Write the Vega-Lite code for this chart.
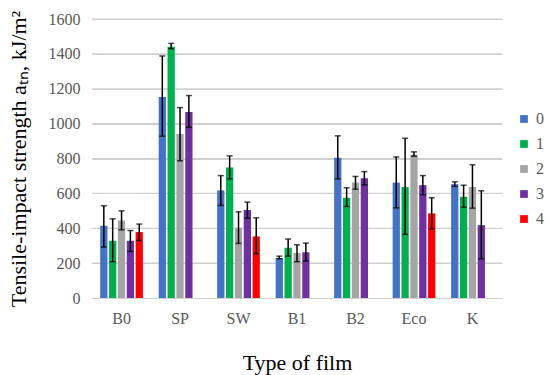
{
  "$schema": "https://vega.github.io/schema/vega-lite/v6.json",
  "width": 410,
  "height": 279,
  "autosize": {"type": "none"},
  "padding": {"left": 92, "top": 19, "right": 48, "bottom": 77},
  "config": {
    "font": "Liberation Serif",
    "view": {"stroke": null},
    "axis": {"labelFont": "Liberation Serif", "titleFont": "Liberation Serif"},
    "legend": {"labelFont": "Liberation Serif"}
  },
  "resolve": {"axis": {"y": "independent", "x": "independent"}},
  "datasets": {
    "bars": [
      {"film": "B0", "series": "0", "value": 414, "lo": 292, "hi": 529},
      {"film": "B0", "series": "1", "value": 328, "lo": 208, "hi": 454},
      {"film": "B0", "series": "2", "value": 445, "lo": 391, "hi": 500},
      {"film": "B0", "series": "3", "value": 328, "lo": 267, "hi": 387},
      {"film": "B0", "series": "4", "value": 378, "lo": 330, "hi": 424},
      {"film": "SP", "series": "0", "value": 1153, "lo": 928, "hi": 1388},
      {"film": "SP", "series": "1", "value": 1441, "lo": 1430, "hi": 1460},
      {"film": "SP", "series": "2", "value": 941, "lo": 787, "hi": 1092},
      {"film": "SP", "series": "3", "value": 1067, "lo": 979, "hi": 1161},
      {"film": "SW", "series": "0", "value": 617, "lo": 531, "hi": 702},
      {"film": "SW", "series": "1", "value": 748, "lo": 683, "hi": 815},
      {"film": "SW", "series": "2", "value": 403, "lo": 313, "hi": 494},
      {"film": "SW", "series": "3", "value": 504, "lo": 458, "hi": 550},
      {"film": "SW", "series": "4", "value": 353, "lo": 254, "hi": 460},
      {"film": "B1", "series": "0", "value": 229, "lo": 225, "hi": 240},
      {"film": "B1", "series": "1", "value": 288, "lo": 240, "hi": 338},
      {"film": "B1", "series": "2", "value": 258, "lo": 208, "hi": 305},
      {"film": "B1", "series": "3", "value": 262, "lo": 212, "hi": 315},
      {"film": "B2", "series": "0", "value": 804, "lo": 683, "hi": 930},
      {"film": "B2", "series": "1", "value": 575, "lo": 525, "hi": 632},
      {"film": "B2", "series": "2", "value": 662, "lo": 624, "hi": 697},
      {"film": "B2", "series": "3", "value": 687, "lo": 649, "hi": 725},
      {"film": "Eco", "series": "0", "value": 662, "lo": 517, "hi": 809},
      {"film": "Eco", "series": "1", "value": 636, "lo": 365, "hi": 916},
      {"film": "Eco", "series": "2", "value": 821, "lo": 813, "hi": 838},
      {"film": "Eco", "series": "3", "value": 647, "lo": 592, "hi": 702},
      {"film": "Eco", "series": "4", "value": 485, "lo": 395, "hi": 575},
      {"film": "K", "series": "0", "value": 653, "lo": 640, "hi": 666},
      {"film": "K", "series": "1", "value": 580, "lo": 521, "hi": 647},
      {"film": "K", "series": "2", "value": 636, "lo": 515, "hi": 764},
      {"film": "K", "series": "3", "value": 418, "lo": 225, "hi": 615}
    ],
    "grid": [
      {"g": 200}, {"g": 400}, {"g": 600}, {"g": 800},
      {"g": 1000}, {"g": 1200}, {"g": 1400}, {"g": 1600}
    ]
  },
  "layer": [
    {
      "data": {"name": "grid"},
      "mark": {"type": "rule", "color": "#D0D0D0", "strokeWidth": 1.2},
      "encoding": {
        "x": {"value": 0},
        "x2": {"value": "width"},
        "y": {"field": "g", "type": "quantitative", "axis": null}
      }
    },
    {
      "data": {"name": "bars"},
      "mark": {"type": "bar"},
      "encoding": {
        "x": {
          "field": "film", "type": "nominal",
          "sort": ["B0", "SP", "SW", "B1", "B2", "Eco", "K"],
          "scale": {"paddingInner": 0.27, "paddingOuter": 0.14},
          "axis": {
            "title": "Type of film", "titleFontSize": 22, "titleFontWeight": "normal", "titleColor": "#000000", "titlePadding": 26,
            "labelAngle": 0, "labelFontSize": 16, "labelColor": "#595959", "labelPadding": 12,
            "ticks": false, "domainColor": "#D0D0D0", "domainWidth": 1.2
          }
        },
        "xOffset": {
          "field": "series", "type": "nominal",
          "scale": {"domain": ["0", "1", "2", "3", "4"], "paddingInner": 0.18}
        },
        "y": {
          "field": "value", "type": "quantitative",
          "scale": {"domain": [0, 1600]},
          "axis": {
            "title": "Tensile-impact strength aₜₙ, kJ/m²", "titleFontSize": 22, "titleFontWeight": "normal", "titleColor": "#000000", "titlePadding": 18,
            "values": [0, 200, 400, 600, 800, 1000, 1200, 1400, 1600], "format": "d", "labelOverlap": false,
            "labelFontSize": 16, "labelColor": "#595959", "labelPadding": 12, "labelFont": "Liberation Serif",
            "ticks": true, "tickSize": 0, "domain": false, "grid": true, "gridColor": "#D0D0D0", "gridWidth": 1.2
          }
        },
        "color": {
          "field": "series", "type": "nominal",
          "scale": {"domain": ["0", "1", "2", "3", "4"], "range": ["#4472C4", "#00B050", "#A5A5A5", "#7030A0", "#FF0000"]},
          "legend": {
            "title": null, "orient": "none", "legendX": 424, "legendY": 92,
            "symbolType": "square", "symbolSize": 60, "symbolStrokeWidth": 0,
            "labelFontSize": 16, "labelColor": "#595959", "rowPadding": 9, "labelOffset": 4
          }
        }
      }
    },
    {
      "data": {"name": "bars"},
      "mark": {"type": "rule", "color": "#000000", "strokeWidth": 1.5},
      "encoding": {
        "x": {"field": "film", "type": "nominal", "sort": ["B0", "SP", "SW", "B1", "B2", "Eco", "K"], "axis": null},
        "xOffset": {"field": "series", "type": "nominal"},
        "y": {"field": "lo", "type": "quantitative", "axis": null},
        "y2": {"field": "hi"}
      }
    },
    {
      "data": {"name": "bars"},
      "mark": {"type": "tick", "color": "#000000", "thickness": 1.5, "size": 6},
      "encoding": {
        "x": {"field": "film", "type": "nominal", "sort": ["B0", "SP", "SW", "B1", "B2", "Eco", "K"], "axis": null},
        "xOffset": {"field": "series", "type": "nominal"},
        "y": {"field": "lo", "type": "quantitative", "axis": null}
      }
    },
    {
      "data": {"name": "bars"},
      "mark": {"type": "tick", "color": "#000000", "thickness": 1.5, "size": 6},
      "encoding": {
        "x": {"field": "film", "type": "nominal", "sort": ["B0", "SP", "SW", "B1", "B2", "Eco", "K"], "axis": null},
        "xOffset": {"field": "series", "type": "nominal"},
        "y": {"field": "hi", "type": "quantitative", "axis": null}
      }
    }
  ]
}
